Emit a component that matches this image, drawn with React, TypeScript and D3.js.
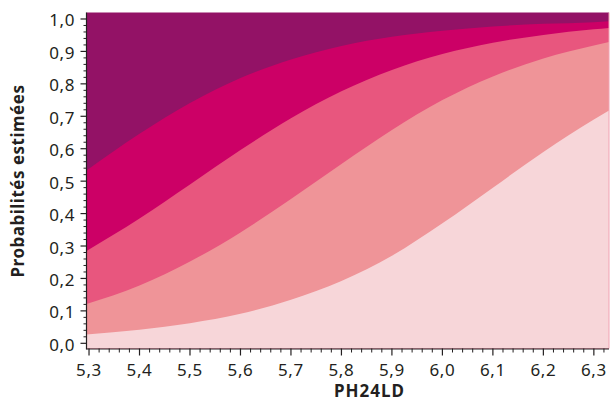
import React from "react";
import * as d3 from "d3";

// PH24LD values where the cumulative probabilities were read
const xValues = [5.295, 5.4, 5.5, 5.6, 5.7, 5.8, 5.9, 6.0, 6.1, 6.2, 6.3, 6.33];
// cumulative estimated probabilities (stack boundaries, bottom to top)
const cum1 = [0.027, 0.042, 0.062, 0.091, 0.134, 0.192, 0.27, 0.37, 0.48, 0.59, 0.69, 0.718];
const cum2 = [0.121, 0.178, 0.252, 0.342, 0.445, 0.553, 0.658, 0.75, 0.823, 0.878, 0.918, 0.929];
const cum3 = [0.285, 0.385, 0.49, 0.596, 0.694, 0.777, 0.843, 0.892, 0.927, 0.951, 0.968, 0.972];
const cum4 = [0.533, 0.646, 0.741, 0.818, 0.875, 0.917, 0.945, 0.964, 0.977, 0.985, 0.99, 0.993];

const xMajorTicks = [5.3, 5.4, 5.5, 5.6, 5.7, 5.8, 5.9, 6.0, 6.1, 6.2, 6.3];
const yMajorTicks = [0, 0.1, 0.2, 0.3, 0.4, 0.5, 0.6, 0.7, 0.8, 0.9, 1.0];

const colors = ["#f7d6d9", "#ef9498", "#e8567e", "#cc0066", "#931266"];

const W = 610;
const H = 403;
const left = 86.5;
const right = 609;
const top = 12.5;
const bottom = 348.5;

const fmt = (v: number) => v.toFixed(1).replace(".", ",");

export default function App() {
  const x = d3.scaleLinear().domain([5.295, 6.33]).range([left, right]);
  const y = d3.scaleLinear().domain([-0.016, 1.02]).range([bottom, top]);

  const series = [cum4, cum3, cum2, cum1];
  const seriesColors = [colors[3], colors[2], colors[1], colors[0]];

  const area = (vals: number[]) =>
    d3
      .area<number>()
      .x((_, i) => x(xValues[i]))
      .y0(() => y(-0.016))
      .y1((d) => y(d))
      .curve(d3.curveMonotoneX)(vals) || "";

  const xMinor: number[] = [];
  for (let i = 0; i <= 51; i++) {
    const v = 5.3 + i * 0.02;
    if (v <= 6.331 && i % 5 !== 0) xMinor.push(v);
  }
  const yMinor: number[] = [];
  for (let i = 0; i <= 50; i++) {
    if (i % 5 !== 0) yMinor.push(i * 0.02);
  }

  const axisColor = "#231f20";
  const font = "'Noto Sans', sans-serif";

  return (
    <svg
      width={W}
      height={H}
      style={{ position: "absolute", left: 0, top: 0, display: "block", background: "#fff" }}
    >
      <rect x={left} y={top} width={right - left} height={bottom - top} fill={colors[4]} />
      {series.map((s, i) => (
        <path key={i} d={area(s)} fill={seriesColors[i]} />
      ))}
      <line x1={right} x2={right} y1={top} y2={bottom} stroke="#f0a2b2" strokeWidth={1} />

      {/* Y axis */}
      <line x1={left} x2={left} y1={top} y2={bottom + 1} stroke={axisColor} strokeWidth={1.2} />
      {yMajorTicks.map((t) => (
        <g key={"ym" + t}>
          <line x1={left - 6} x2={left} y1={y(t)} y2={y(t)} stroke={axisColor} strokeWidth={1.2} />
          <text
            x={75}
            y={y(t) + 7.5}
            textAnchor="end"
            fontFamily={font}
            fontSize={17}
            letterSpacing={0.6}
            fill={axisColor}
          >
            {fmt(t)}
          </text>
        </g>
      ))}
      {yMinor.map((t, i) => (
        <line key={"yn" + i} x1={left - 3} x2={left} y1={y(t)} y2={y(t)} stroke={axisColor} strokeWidth={1} />
      ))}

      {/* X axis */}
      <line x1={left} x2={right} y1={bottom + 0.5} y2={bottom + 0.5} stroke={axisColor} strokeWidth={1.2} />
      {xMajorTicks.map((t) => (
        <g key={"xm" + t}>
          <line x1={x(t)} x2={x(t)} y1={bottom} y2={bottom + 7} stroke={axisColor} strokeWidth={1.2} />
          <text
            x={x(t)}
            y={376}
            textAnchor="middle"
            fontFamily={font}
            fontSize={17}
            letterSpacing={0.6}
            fill={axisColor}
          >
            {fmt(t)}
          </text>
        </g>
      ))}
      {xMinor.map((t, i) => (
        <line key={"xn" + i} x1={x(t)} x2={x(t)} y1={bottom} y2={bottom + 4} stroke={axisColor} strokeWidth={1} />
      ))}

      <text
        x={369.5}
        y={397}
        textAnchor="middle"
        fontFamily={font}
        fontWeight="bold"
        fontSize={17}
        letterSpacing={1}
        fill={axisColor}
      >
        PH24LD
      </text>
      <text
        transform="translate(24,181) rotate(-90)"
        textAnchor="middle"
        fontFamily={font}
        fontWeight="bold"
        fontSize={17}
        letterSpacing={0.5}
        fill={axisColor}
      >
        Probabilités estimées
      </text>
    </svg>
  );
}
